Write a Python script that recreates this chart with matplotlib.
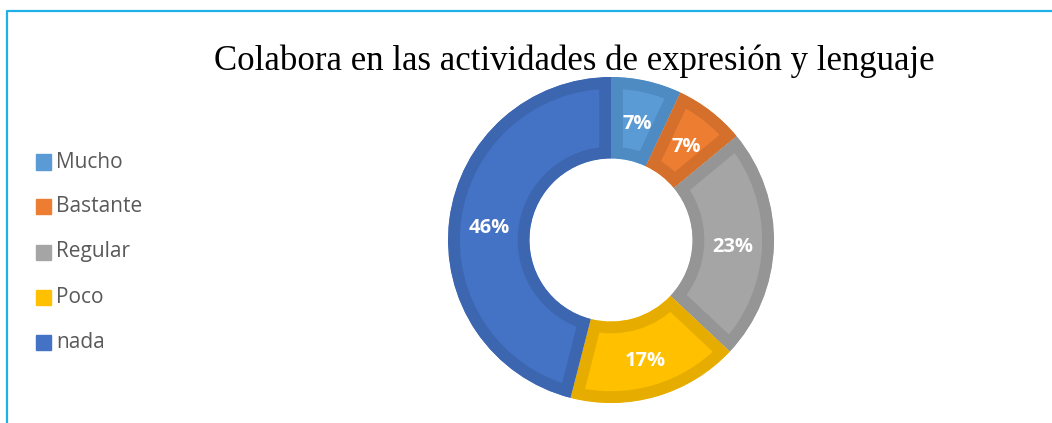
import math
import matplotlib.pyplot as plt
from matplotlib.lines import Line2D

# data
categories = ["Mucho", "Bastante", "Regular", "Poco", "nada"]
percents = [7, 7, 23, 17, 46]
colors = ["#5B9BD5", "#ED7D31", "#A5A5A5", "#FFC000", "#4472C4"]
edge_colors = ["#4F8BC3", "#D5702C", "#959595", "#E6AD00", "#3D66B0"]
title = "Colabora en las actividades de expresión y lenguaje"

W, H = 1052, 423
fig = plt.figure(figsize=(W / 100, H / 100), dpi=100)

# frame lines (light blue, top and left only)
fig.add_artist(Line2D([7 / W, 7 / W, 1.0], [0.0, 1 - 11 / H, 1 - 11 / H],
                      transform=fig.transFigure, color="#1FB0E8", lw=1.6))

# donut
cx, cy, r_px = 611, 240, 163
half = 172
ax = fig.add_axes([(cx - half) / W, (H - cy - half) / H, 2 * half / W, 2 * half / H])
lim = half / r_px
wedges, _ = ax.pie(percents, colors=colors, startangle=90, counterclock=False,
                   radius=1.0, wedgeprops=dict(width=0.5, linewidth=0))
for w, ec in zip(wedges, edge_colors):
    w.set_edgecolor(ec)
    w.set_linewidth(17)
    w.set_clip_on(True)
    w.set_clip_path(w.get_path(), w.get_transform())

# labels at the middle of the ring
for p, w in zip(percents, wedges):
    mid = math.radians((w.theta1 + w.theta2) / 2)
    rr = 0.75
    ax.text(rr * math.cos(mid), rr * math.sin(mid) - 0.02, f"{p}%", ha="center", va="center",
            color="white", fontsize=14.5, fontweight="bold", family="Open Sans")
ax.set_xlim(-lim, lim)
ax.set_ylim(-lim, lim)
ax.set_aspect("equal")
ax.axis("off")

# title
fig.text(574 / W, 1 - 61 / H, title, ha="center", va="center",
         fontsize=25, family="Liberation Serif", color="black")

# legend
y0, dy = 162, 45
for i, (cat, c) in enumerate(zip(categories, colors)):
    y = y0 + i * dy
    fig.patches.append(plt.Rectangle((36 / W, 1 - (y + 7.5) / H), 15 / W, 15 / H,
                                     transform=fig.transFigure, color=c, figure=fig))
    fig.text(56 / W, 1 - y / H, cat, ha="left", va="center", fontsize=15,
             family="Open Sans", color="#595959")

fig.savefig("out.png", dpi=100)
